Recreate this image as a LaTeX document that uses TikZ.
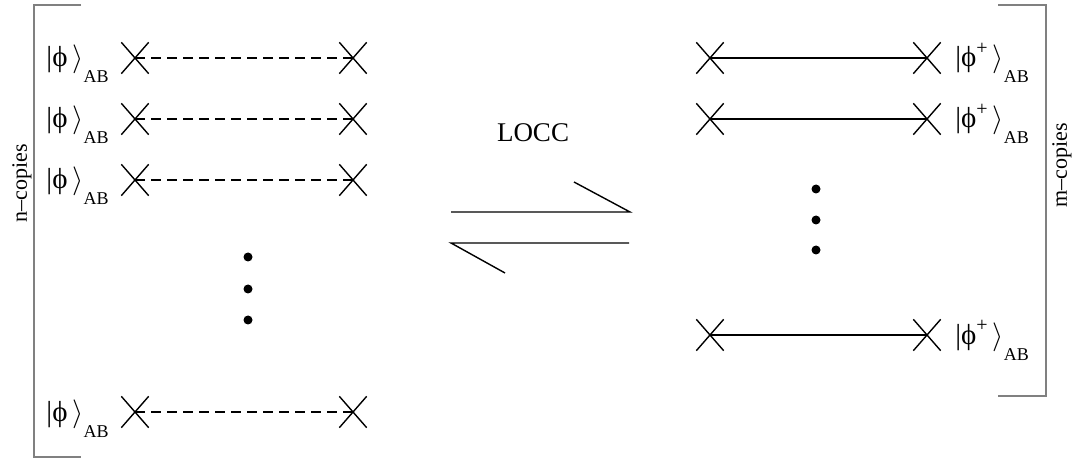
\documentclass[tikz,border=0pt]{standalone}
\usepackage{fontspec}
\setmainfont{Liberation Serif}
\usetikzlibrary{shapes.misc}
\newcommand{\ketphi}{|ϕ\,$\rangle$\raisebox{-8pt}{\fontsize{9}{9}\selectfont AB}}
\newcommand{\ketphip}{|ϕ\raisebox{6pt}{\fontsize{10}{9}\selectfont +}\,$\rangle$\raisebox{-8pt}{\fontsize{9}{9}\selectfont AB}}
\begin{document}
\begin{tikzpicture}[x=0.5pt,y=-0.5pt,
  cross/.style={draw,cross out,minimum width=13pt,minimum height=15pt,inner sep=0pt,line width=0.7pt},
  pure/.style={line width=0.7pt},
  noisy/.style={line width=0.7pt,dash pattern=on 5pt off 3pt},
  ket/.style={font=\fontsize{14.5}{16}\selectfont,inner sep=0pt},
  copies/.style={font=\fontsize{11}{12}\selectfont,rotate=90,inner sep=0pt},
  bracket/.style={draw=gray,line width=0.6pt},
  dot/.style={circle,fill,inner sep=0pt,minimum size=4.5pt}]
\useasboundingbox (0,0) rectangle (1080,459);
% n copies of the shared state
\foreach \k/\y in {1/58,2/119,3/180,4/412}{
  \node[cross] (a\k) at (135,\y) {};
  \node[cross] (b\k) at (353,\y) {};
  \draw[noisy] (a\k.center) -- (b\k.center);
  \node[ket,anchor=base east] (s\k) at (109,{\y+9}) {\ketphi};
}
\foreach \k/\y in {1/257,2/289,3/320}
  \node[dot] (ldot\k) at (248,\y) {};
\draw[bracket] (81,5) -- (34,5) -- (34,457) -- (81,457);
\node[copies] (ncopies) at (22,183) {n–copies};
% m copies of the maximally entangled state
\foreach \k/\y in {1/58,2/119,3/335}{
  \node[cross] (c\k) at (710,\y) {};
  \node[cross] (d\k) at (927,\y) {};
  \draw[pure] (c\k.center) -- (d\k.center);
  \node[ket,anchor=base west] (t\k) at (955,{\y+9}) {\ketphip};
}
\foreach \k/\y in {1/189,2/220,3/250}
  \node[dot] (rdot\k) at (816,\y) {};
\draw[bracket] (998,5) -- (1046,5) -- (1046,396) -- (998,396);
\node[copies] (mcopies) at (1062,165) {m–copies};
% LOCC harpoons
\node[font=\fontsize{13.5}{16}\selectfont] (locc) at (533,133) {LOCC};
\coordinate (fwdA) at (451,212);
\coordinate (fwdB) at (630,212);
\coordinate (fwdC) at (574,182);
\coordinate (bwdA) at (629,243);
\coordinate (bwdB) at (451,243);
\coordinate (bwdC) at (505,273);
\draw[pure] (fwdA) -- (fwdB) -- (fwdC);
\draw[pure] (bwdA) -- (bwdB) -- (bwdC);
\end{tikzpicture}
\end{document}
